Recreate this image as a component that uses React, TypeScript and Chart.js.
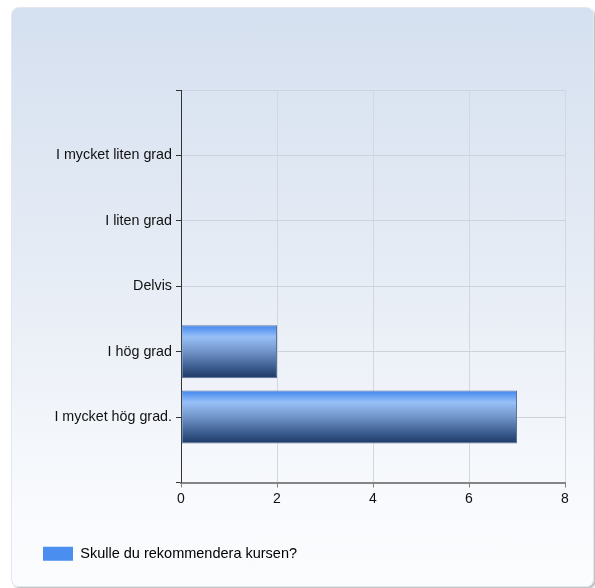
import React, { useEffect, useRef } from "react";
import { Chart, registerables } from "chart.js";

Chart.register(...registerables);

const categories: string[] = [
  "I mycket liten grad",
  "I liten grad",
  "Delvis",
  "I hög grad",
  "I mycket hög grad.",
];
const values: number[] = [0, 0, 0, 2, 7];
const seriesName = "Skulle du rekommendera kursen?";
const xTicks: number[] = [0, 2, 4, 6, 8];

const FONT = "'Liberation Sans', Arial, sans-serif";

export default function App() {
  const ref = useRef<HTMLCanvasElement | null>(null);

  useEffect(() => {
    if (!ref.current) return;
    const labels = ["", ...categories, ""];
    const data = [null, ...values, null];

    const chart = new Chart(ref.current, {
      type: "bar",
      data: {
        labels,
        datasets: [
          {
            label: seriesName,
            data,
            categoryPercentage: 1,
            barPercentage: 0.81,
            borderWidth: 1,
            borderColor: "#5d7499",
            borderSkipped: false,
            backgroundColor: (ctx: any) => {
              const c = ctx.chart;
              const y = c.scales && c.scales.y;
              if (!y || ctx.dataIndex === undefined) return "#4a8ff0";
              const center = y.getPixelForValue(ctx.dataIndex);
              const step = Math.abs(y.getPixelForValue(1) - y.getPixelForValue(0));
              const half = (step * 0.81) / 2;
              const g = c.ctx.createLinearGradient(0, center - half, 0, center + half);
              g.addColorStop(0, "#3f85ee");
              g.addColorStop(0.22, "#98c0f7");
              g.addColorStop(0.5, "#7194c9");
              g.addColorStop(0.8, "#3b5c8e");
              g.addColorStop(1, "#1c3866");
              return g;
            },
          },
        ],
      },
      options: {
        indexAxis: "y",
        animation: false,
        responsive: false,
        maintainAspectRatio: false,
        layout: { padding: { left: 33, right: 30, top: 90, bottom: 17 } },
        plugins: {
          tooltip: { enabled: false },
          legend: {
            position: "bottom",
            align: "start",
            labels: {
              boxWidth: 30,
              boxHeight: 14,
              padding: 10,
              color: "#111",
              font: { family: FONT, size: 14.5 },
              generateLabels: () => [
                {
                  text: seriesName,
                  fillStyle: "#4a8ff0",
                  strokeStyle: "#4a8ff0",
                  lineWidth: 0,
                  hidden: false,
                  datasetIndex: 0,
                } as any,
              ],
            },
          },
        },
        scales: {
          x: {
            type: "linear",
            min: xTicks[0],
            max: xTicks[xTicks.length - 1],
            afterBuildTicks: (s: any) => {
              s.ticks = xTicks.map((v) => ({ value: v }));
            },
            afterFit: (s: any) => {
              s.height = 54;
            },
            ticks: {
              color: "#111",
              font: { family: FONT, size: 14 },
              padding: 3,
            },
            grid: {
              color: "#d3d8e0",
              tickColor: "#808080",
              tickLength: 5,
            },
            border: { color: "#858585", width: 2 },
          },
          y: {
            type: "category",
            offset: false,
            afterFit: (s: any) => {
              s.width = 148;
            },
            ticks: {
              color: "#111",
              font: { family: FONT, size: 14.3 },
              padding: 4,
              autoSkip: false,
            },
            grid: {
              offset: false,
              color: "#cdd3dd",
              tickColor: "#333",
              tickLength: 5,
            },
            border: { color: "#333", width: 1 },
          },
        },
      },
    });
    return () => chart.destroy();
  }, []);

  return (
    <div style={{ position: "fixed", left: 0, top: 0, width: 595, height: 588, background: "#fff", overflow: "hidden" }}>
      <div
        style={{
          position: "absolute",
          left: 11,
          top: 7,
          width: 581,
          height: 578,
          borderRadius: 8,
          border: "1px solid #e3e8ef",
          background: "linear-gradient(to bottom, #d5e0f0 0%, #e6ecf5 45%, #f8fafd 85%, #fbfcfe 100%)",
          boxShadow: "2px 2px 2px rgba(0,0,0,0.25)",
        }}
      />
      <canvas ref={ref} width={595} height={588} style={{ position: "absolute", left: 0, top: 0, width: 595, height: 588 }} />
    </div>
  );
}
